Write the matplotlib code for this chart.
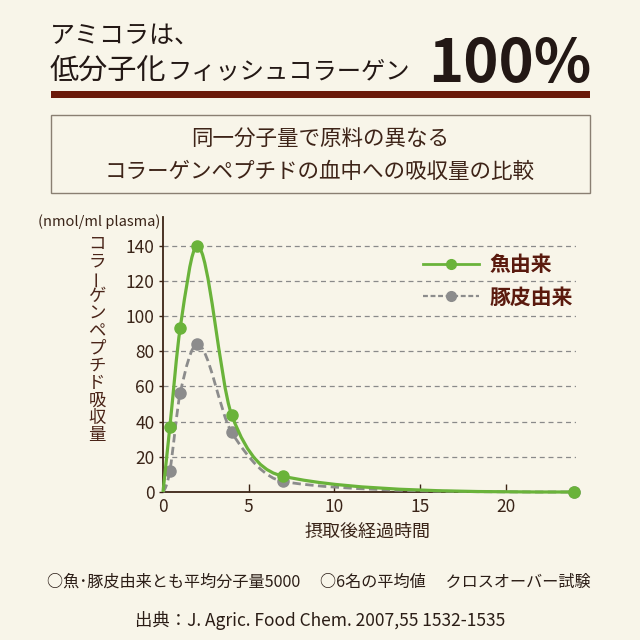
import numpy as np
import matplotlib
matplotlib.use("Agg")
import matplotlib.pyplot as plt
from matplotlib.path import Path
from matplotlib.patches import PathPatch, Rectangle
from matplotlib.lines import Line2D

plt.rcParams['font.family'] = ['Noto Sans CJK JP', 'DejaVu Sans']

# ---------------- data ----------------
hours = [0, 0.4, 1, 2, 4, 7, 24]
fish_values = [0, 37, 93, 140, 44, 9, 0]
pig_values = [0, 12, 56, 84, 34, 6, 0]
series_names = ['魚由来', '豚皮由来']
x_ticks = [0, 5, 10, 15, 20]
y_ticks = [0, 20, 40, 60, 80, 100, 120, 140]
title_line1 = 'アミコラは、'
title_line2a = '低分子化'
title_line2b = 'フィッシュコラーゲン'
title_big = '100%'
box_line1 = '同一分子量で原料の異なる'
box_line2 = 'コラーゲンペプチドの血中への吸収量の比較'
y_unit = '(nmol/ml plasma)'
y_label = 'コラーゲンペプチド吸収量'
x_label = '摂取後経過時間'
note1 = '○魚･豚皮由来とも平均分子量5000　 ○6名の平均値　 クロスオーバー試験'
note2 = '出典：J. Agric. Food Chem. 2007,55 1532-1535'

# ---------------- style ----------------
BG = '#f8f5e9'
DARK = '#231815'
BROWN_BAR = '#6b1a0a'
TEXT_BROWN = '#3e2418'
LEGEND_TXT = '#5a1a0e'
GREEN = '#6ab33a'
GRAY = '#8c8c8c'

W = H = 640.0
def fx(x):
    return x / W
def fy(y):
    return 1 - y / H

fig = plt.figure(figsize=(6.4, 6.4), dpi=100, facecolor=BG)

# ---------------- header ----------------
fig.text(fx(50), fy(36), title_line1, fontsize=18, color=DARK, va='center', ha='left')
fig.text(fx(50), fy(79), title_line2a, fontsize=21, color=DARK, va='baseline', ha='left')
fig.text(fx(167), fy(79), title_line2b, fontsize=17.5, color=DARK, va='baseline', ha='left')
fig.text(fx(428), fy(82), title_big, fontsize=43, color=DARK, va='baseline', ha='left',
         fontweight='bold')
fig.patches.append(Rectangle((fx(51), fy(97.5)), fx(590) - fx(51), (97.5 - 91.5) / H,
                             transform=fig.transFigure, facecolor=BROWN_BAR, edgecolor='none'))
fig.patches.append(Rectangle((fx(51), fy(193)), fx(590) - fx(51), (193 - 115) / H,
                             transform=fig.transFigure, facecolor='none', edgecolor='#8a7f72', lw=1))
fig.text(fx(320), fy(140), box_line1, fontsize=15.5, color=TEXT_BROWN, va='center', ha='center')
fig.text(fx(320), fy(172), box_line2, fontsize=15.5, color=TEXT_BROWN, va='center', ha='center')

# ---------------- axes ----------------
ax = fig.add_axes([fx(163), fy(492), (576 - 163) / W, (492 - 217) / H])
ax.set_facecolor(BG)
ax.set_xlim(0, 24.1)
ax.set_ylim(0, 275 / 1.759)
for s in ['top', 'right']:
    ax.spines[s].set_visible(False)
for s in ['left', 'bottom']:
    ax.spines[s].set_color('#3c2415')
    ax.spines[s].set_linewidth(1.3)
    ax.spines[s].set_zorder(3)

ax.set_yticks(y_ticks)
ax.set_yticklabels([str(v) for v in y_ticks])
ax.set_xticks(x_ticks)
ax.set_xticklabels([str(v) for v in x_ticks])
ax.tick_params(axis='y', direction='out', length=3, width=1, color='#3c2415',
               labelsize=12.5, labelcolor='#3a2418', pad=3)
ax.tick_params(axis='x', direction='in', length=6, width=1, color='#3c2415',
               labelsize=12.5, labelcolor='#3a2418', pad=4)
for yv in y_ticks[1:]:
    ax.axhline(yv, color='#8a8a8a', lw=0.9, linestyle=(0, (4, 3)), zorder=1)


def knot_slopes(x, y):
    """Centred-difference tangents, flat at local extrema."""
    x = np.asarray(x, float)
    y = np.asarray(y, float)
    n = len(x)
    d = np.diff(y) / np.diff(x)
    m = np.zeros(n)
    for k in range(1, n - 1):
        if d[k - 1] * d[k] <= 0:
            m[k] = 0.0
        else:
            m[k] = (y[k + 1] - y[k - 1]) / (x[k + 1] - x[k - 1])
    h0, h1 = x[1] - x[0], x[2] - x[1]
    s = ((2 * h0 + h1) * d[0] - h0 * d[1]) / (h0 + h1)
    m[0] = s if np.sign(s) == np.sign(d[0]) else 0.0
    m[-1] = 0.0
    return m


def smooth_path(x, y):
    """Smooth Bezier curve through the knots; handles kept inside each segment's y-range."""
    m = knot_slopes(x, y)
    verts = [(x[0], y[0])]
    codes = [Path.MOVETO]
    for i in range(len(x) - 1):
        h = x[i + 1] - x[i]
        dy = abs(y[i + 1] - y[i])
        a0 = h / 3 if m[i] == 0 else min(h / 3, dy / abs(m[i]))
        a1 = h / 3 if m[i + 1] == 0 else min(h / 3, dy / abs(m[i + 1]))
        verts += [(x[i] + a0, y[i] + m[i] * a0),
                  (x[i + 1] - a1, y[i + 1] - m[i + 1] * a1),
                  (x[i + 1], y[i + 1])]
        codes += [Path.CURVE4] * 3
    return Path(verts, codes)


pig_patch = PathPatch(smooth_path(hours, pig_values), fill=False, edgecolor=GRAY, lw=2.0,
                      linestyle=(0, (3, 1.6)), zorder=4, clip_on=False)
ax.add_patch(pig_patch)
ax.plot(hours[1:], pig_values[1:], 'o', color=GRAY, markersize=8, zorder=5, clip_on=False)

fish_patch = PathPatch(smooth_path(hours, fish_values), fill=False, edgecolor=GREEN, lw=2.3,
                       zorder=6, clip_on=False)
ax.add_patch(fish_patch)
ax.plot(hours[1:], fish_values[1:], 'o', color=GREEN, markersize=8, zorder=7, clip_on=False)

handles = [Line2D([], [], color=GREEN, lw=2.0, marker='o', markersize=7),
           Line2D([], [], color=GRAY, lw=1.6, linestyle=(0, (2.2, 1.2)), marker='o', markersize=7)]
leg = ax.legend(handles, series_names, loc='upper left',
                bbox_to_anchor=(fx(423), fy(254)), bbox_transform=fig.transFigure,
                frameon=False, borderpad=0, borderaxespad=0, handlelength=2.7,
                handletextpad=0.5, labelspacing=0.55,
                prop={'family': ['Noto Sans CJK JP', 'DejaVu Sans'], 'size': 15, 'weight': 'bold'})
for t in leg.get_texts():
    t.set_color(LEGEND_TXT)

# axis labels
fig.text(fx(160), fy(222), y_unit, fontsize=10.5, color='#3a2418', ha='right', va='center')
y0 = 244
step = 17.4
for i, ch in enumerate(y_label):
    rot = 90 if ch == 'ー' else 0
    fig.text(fx(97), fy(y0 + i * step), ch, fontsize=12.5, color='#4a2418',
             ha='center', va='center', rotation=rot)
fig.text(fx(368), fy(532), x_label, fontsize=13, color='#3a2418', ha='center', va='center')

# footnotes
fig.text(fx(319), fy(582), note1, fontsize=11.6, color='#2b1d16', ha='center', va='center')
fig.text(fx(320), fy(620), note2, fontsize=12.5, color='#2b1d16', ha='center', va='center')

fig.savefig('out.png', dpi=100, facecolor=BG)
